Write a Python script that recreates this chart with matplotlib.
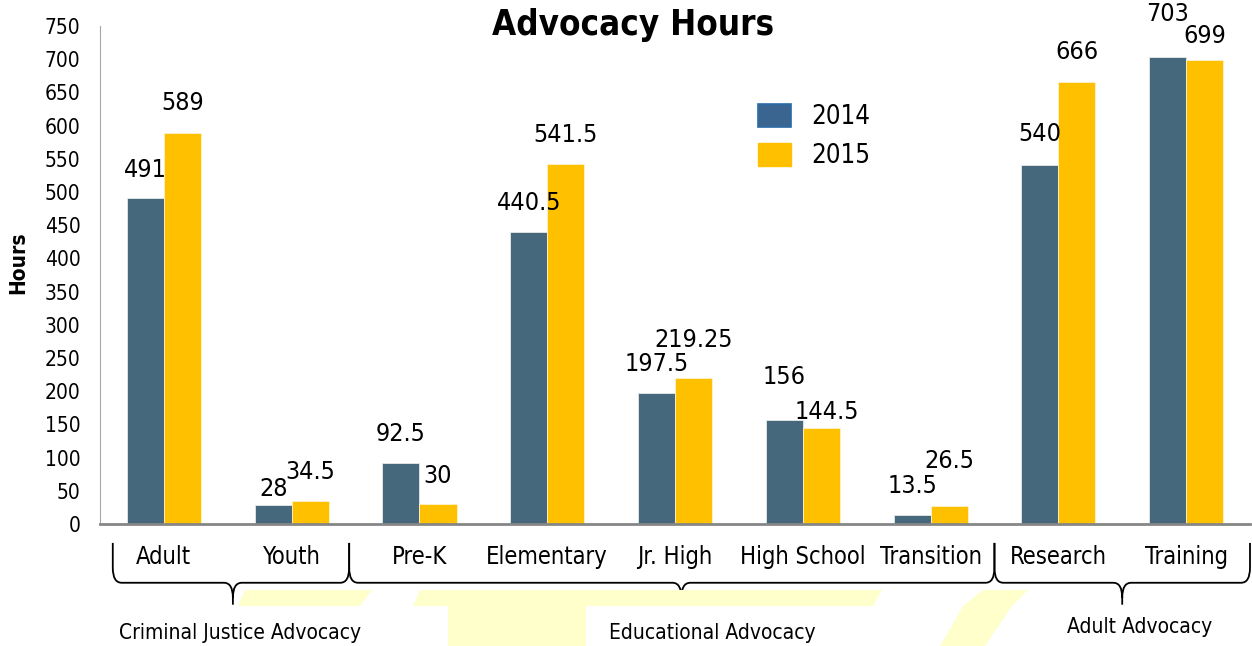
import matplotlib.pyplot as plt
import matplotlib.patches as mpatches
from matplotlib.path import Path
import numpy as np

# data
categories = ['Adult', 'Youth', 'Pre-K', 'Elementary', 'Jr. High',
              'High School', 'Transition', 'Research', 'Training']
hours_2014 = [491, 28, 92.5, 440.5, 197.5, 156, 13.5, 540, 703]
hours_2015 = [589, 34.5, 30, 541.5, 219.25, 144.5, 26.5, 666, 699]
labels_2014 = ['491', '28', '92.5', '440.5', '197.5', '156', '13.5', '540', '703']
labels_2015 = ['589', '34.5', '30', '541.5', '219.25', '144.5', '26.5', '666', '699']
group_names = ['Criminal Justice Advocacy', 'Educational Advocacy', 'Adult Advocacy']
group_spans = [(-0.4, 1.45), (1.45, 6.5), (6.5, 8.5)]
group_points = [0.54, 4.05, 7.5]

# label placement (pixels above the bar top), as hand-placed in the original
lift_2014 = [28, 16, 29, 29, 29, 43, 29, 31, 43]
lift_2015 = [30, 29, 28, 29, 38, 16, 45, 30, 24]
shift_2015 = [0, 0, 0, 0, 0, 6, 0, 0, 0]

c2014 = '#46687C'
c2015 = '#FFC000'

plt.rcParams['font.family'] = ['DejaVu Sans']
plt.rcParams['font.stretch'] = 'condensed'

fig = plt.figure(figsize=(12.52, 6.46), dpi=100)
ax = fig.add_axes([100/1252, 1-524/646, 1150/1252, 498/646])

# faint yellow background shapes at the bottom
pale = '#FFFFCC'
def fpoly(pts):
    p = mpatches.Polygon([(x/1252, 1-y/646) for x, y in pts], closed=True,
                         transform=fig.transFigure, facecolor=pale,
                         edgecolor='none', zorder=0)
    fig.patches.append(p)
fpoly([(245, 590), (372, 590), (360, 606), (238, 606)])
fpoly([(420, 590), (882, 590), (873, 606), (586, 606), (586, 646),
       (448, 646), (448, 606), (413, 606)])
fpoly([(983, 590), (1028, 590), (1012, 606), (985, 646), (940, 646),
       (963, 606)])

x = np.arange(len(categories))
w = 0.29
b1 = ax.bar(x - w/2, hours_2014, w, color=c2014, edgecolor='#e8e8e8', linewidth=0.6, zorder=2)
b2 = ax.bar(x + w/2, hours_2015, w, color=c2015, edgecolor='#fff2cc', linewidth=0.6, zorder=2)

px = 72 / fig.dpi
for bars, labs, lifts, shifts in ((b1, labels_2014, lift_2014, [0]*9),
                                  (b2, labels_2015, lift_2015, shift_2015)):
    for r, lab, dy, dx in zip(bars, labs, lifts, shifts):
        ax.annotate(lab, (r.get_x() + r.get_width()/2, r.get_height()),
                    xytext=(dx*px, dy*px), textcoords='offset points',
                    ha='center', va='center', fontsize=18, annotation_clip=False)

ax.set_xlim(-0.5, len(categories) - 0.5)
ax.set_ylim(0, 750)
ax.set_yticks(np.arange(0, 751, 50))
ax.set_xticks(x)
ax.set_xticklabels(categories, fontsize=17)
ax.tick_params(axis='x', length=0, pad=15)
ax.tick_params(axis='y', length=0, pad=14, labelsize=15)
for s in ('top', 'right'):
    ax.spines[s].set_visible(False)
ax.spines['left'].set_color('#A6A6A6')
ax.spines['bottom'].set_color('#868686')
ax.spines['bottom'].set_linewidth(2)
ax.set_ylabel('Hours', fontsize=15, fontweight='bold')
ax.yaxis.set_label_coords(-72/1150, (524-263)/498)

fig.text(633/1252, 1-25/646, 'Advocacy Hours', ha='center', va='center',
         fontsize=25, fontweight='bold')

# braces under the category labels
trans = ax.get_xaxis_transform()
top, mid, bot = -0.038, -0.118, -0.162
r = 0.03
for (x0, x1), xc in zip(group_spans, group_points):
    dx = 0.07
    verts = [(x0, top), (x0, mid + r), (x0, mid), (x0 + dx, mid),
             (xc - dx, mid), (xc, mid), (xc, mid - r), (xc, bot),
             (xc, mid - r), (xc, mid), (xc + dx, mid),
             (x1 - dx, mid), (x1, mid), (x1, mid + r), (x1, top)]
    codes = [Path.MOVETO, Path.LINETO, Path.CURVE3, Path.CURVE3,
             Path.LINETO, Path.CURVE3, Path.CURVE3, Path.LINETO,
             Path.MOVETO, Path.CURVE3, Path.CURVE3,
             Path.LINETO, Path.CURVE3, Path.CURVE3, Path.LINETO]
    ax.add_patch(mpatches.PathPatch(Path(verts, codes), transform=trans,
                                    fill=False, edgecolor='black', lw=1.3,
                                    clip_on=False))

group_x = [0.6, 4.29, 7.64]
group_y = [-0.219, -0.219, -0.207]
for name, gx, gy in zip(group_names, group_x, group_y):
    ax.text(gx, gy, name, transform=trans, ha='center', va='center', fontsize=15)

handles = [mpatches.Patch(facecolor='#3A6591', edgecolor='#2B6AA6', lw=1.2, label='2014'),
           mpatches.Patch(facecolor=c2015, edgecolor=c2015, label='2015')]
fig.legend(handles=handles, loc='upper left', bbox_to_anchor=(735/1252, 1-81/646),
           frameon=False, fontsize=18.5, handlelength=1.28, handleheight=0.97,
           labelspacing=0.5, handletextpad=0.78)

fig.savefig('out.png', dpi=100)
